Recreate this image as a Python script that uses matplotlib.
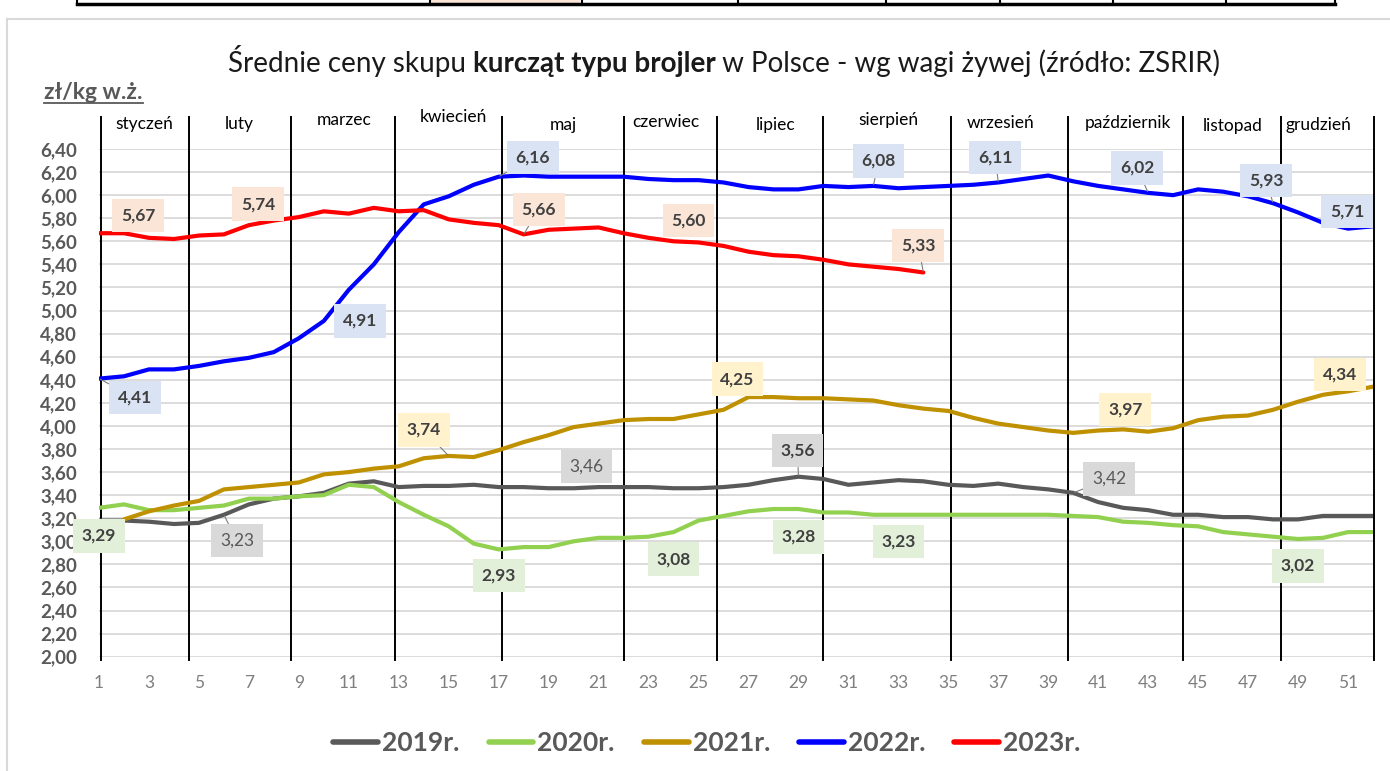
import numpy as np
import matplotlib.pyplot as plt
from matplotlib.lines import Line2D
from matplotlib.patches import Rectangle

plt.rcParams['font.family'] = ['Lato', 'DejaVu Sans']

weeks = np.arange(1, 53)

y2019 = [3.18, 3.18, 3.17, 3.15, 3.16, 3.23, 3.32, 3.37, 3.39, 3.42, 3.50, 3.52, 3.47,
         3.48, 3.48, 3.49, 3.47, 3.47, 3.46, 3.46, 3.47, 3.47, 3.47, 3.46, 3.46, 3.47,
         3.49, 3.53, 3.56, 3.54, 3.49, 3.51, 3.53, 3.52, 3.49, 3.48, 3.50, 3.47, 3.45,
         3.42, 3.34, 3.29, 3.27, 3.23, 3.23, 3.21, 3.21, 3.19, 3.19, 3.22, 3.22, 3.22]
y2020 = [3.29, 3.32, 3.27, 3.27, 3.29, 3.31, 3.37, 3.37, 3.39, 3.40, 3.49, 3.47, 3.34,
         3.23, 3.13, 2.98, 2.93, 2.95, 2.95, 3.00, 3.03, 3.03, 3.04, 3.08, 3.18, 3.22,
         3.26, 3.28, 3.28, 3.25, 3.25, 3.23, 3.23, 3.23, 3.23, 3.23, 3.23, 3.23, 3.23,
         3.22, 3.21, 3.17, 3.16, 3.14, 3.13, 3.08, 3.06, 3.04, 3.02, 3.03, 3.08, 3.08]
y2021 = [np.nan, 3.19, 3.26, 3.31, 3.35, 3.45, 3.47, 3.49, 3.51, 3.58, 3.60, 3.63, 3.65,
         3.72, 3.74, 3.73, 3.79, 3.86, 3.92, 3.99, 4.02, 4.05, 4.06, 4.06, 4.10, 4.14,
         4.25, 4.25, 4.24, 4.24, 4.23, 4.22, 4.18, 4.15, 4.13, 4.07, 4.02, 3.99, 3.96,
         3.94, 3.96, 3.97, 3.95, 3.98, 4.05, 4.08, 4.09, 4.14, 4.21, 4.27, 4.30, 4.34]
y2022 = [4.41, 4.43, 4.49, 4.49, 4.52, 4.56, 4.59, 4.64, 4.76, 4.91, 5.18, 5.40, 5.68,
         5.92, 5.99, 6.09, 6.16, 6.17, 6.16, 6.16, 6.16, 6.16, 6.14, 6.13, 6.13, 6.11,
         6.07, 6.05, 6.05, 6.08, 6.07, 6.08, 6.06, 6.07, 6.08, 6.09, 6.11, 6.14, 6.17,
         6.12, 6.08, 6.05, 6.02, 6.00, 6.05, 6.03, 5.99, 5.93, 5.85, 5.76, 5.71, 5.73]
y2023 = [5.67, 5.67, 5.63, 5.62, 5.65, 5.66, 5.74, 5.78, 5.81, 5.86, 5.84, 5.89, 5.86,
         5.87, 5.79, 5.76, 5.74, 5.66, 5.70, 5.71, 5.72, 5.67, 5.63, 5.60, 5.59, 5.56,
         5.51, 5.48, 5.47, 5.44, 5.40, 5.38, 5.36, 5.33]

series = [("2019r.", y2019, "#595959", "#d9d9d9"),
          ("2020r.", y2020, "#92d050", "#e2f0d9"),
          ("2021r.", y2021, "#bf9000", "#fff2cc"),
          ("2022r.", y2022, "#0000ff", "#dae3f3"),
          ("2023r.", y2023, "#ff0000", "#fbe5d6")]

months = ["styczeń", "luty", "marzec", "kwiecień", "maj", "czerwiec", "lipiec",
          "sierpień", "wrzesień", "październik", "listopad", "grudzień"]
month_bounds = [1.1, 4.6, 8.7, 12.85, 17.15, 22.0, 25.75, 30.0, 35.1, 39.8, 44.4, 48.3, 52.05]
# where the month names sit (in week units) and small vertical shifts (px)
month_pos = [2.8, 6.6, 10.8, 15.2, 19.6, 23.7, 28.1, 32.6, 37.1, 42.2, 46.4, 49.8]
month_dy = [0, 0, 4, 7, -1, 2, -1, 4, 1, 1, -2, -1]

# data labels: (series index, week, dx px, dy px, bold, leader)
labels = [(4, 1, 39, 18, True, False), (4, 7, 9, 21, True, False), (4, 18, 15, 25, True, True),
          (4, 24, 15, 21, True, False), (4, 34, -5, 27, True, True),
          (3, 1, 36, -19, True, True), (3, 10, 36, 0, True, False), (3, 17, 34, 19, True, True),
          (3, 32, 5, 25, True, True), (3, 37, -3, 25, True, True), (3, 43, -11, 25, True, True),
          (3, 48, -7, 23, True, True), (3, 51, -1, 17, True, False),
          (2, 15, -25, 26, True, True), (2, 27, -11, 18, True, False), (2, 42, 2, 20, True, False),
          (2, 52, -33, 12, True, False),
          (0, 6, 13, -26, False, True), (0, 20, 13, 22, False, False), (0, 29, -1, 26, True, True),
          (0, 40, 36, 14, False, True),
          (1, 1, 0, -28, True, False), (1, 17, 0, -26, True, False), (1, 24, 0, -27, True, False),
          (1, 29, 0, -28, True, False), (1, 33, 0, -27, True, False), (1, 49, 0, -27, True, False)]

W, H = 1390, 771
fig = plt.figure(figsize=(W / 100, H / 100), dpi=100)
ax = fig.add_axes([99 / W, 1 - 656.7 / H, (1373 - 99) / W, (656.7 - 149) / H])

for name, vals, col, _ in series:
    ax.plot(weeks[:len(vals)], vals, color=col, lw=3.0, label=name,
            solid_joinstyle='round', solid_capstyle='round', zorder=3)

ax.set_xlim(1, 52)
ax.set_ylim(2.0, 6.4)
ax.set_yticks(np.arange(2.0, 6.41, 0.2))
ax.set_yticklabels([f"{v:.2f}".replace(".", ",") for v in np.arange(2.0, 6.41, 0.2)],
                   fontweight='bold', fontsize=13.5, color='#595959')
ax.set_xticks(np.arange(1, 52, 2))
ax.tick_params(axis='x', length=0, pad=13, labelsize=12.5, labelcolor='#7f7f7f')
ax.tick_params(axis='y', length=0, pad=16)
ax.grid(axis='y', color='#d9d9d9', lw=1.3)
ax.set_axisbelow(True)
for s in ax.spines.values():
    s.set_visible(False)

for b in month_bounds:
    ax.plot([b, b], [1.97, 6.68], color='black', lw=1.4, clip_on=False, zorder=2)
for m, xm, dy in zip(months, month_pos, month_dy):
    ax.annotate(m, xy=(xm, 6.62), xytext=(0, dy), textcoords='offset pixels',
                ha='center', va='center', fontsize=12.5, color='black', annotation_clip=False)

for si, wk, dx, dy, bold, leader in labels:
    name, vals, col, box = series[si]
    v = vals[wk - 1]
    txt = f"{v:.2f}".replace(".", ",")
    tcol = '#404040' if bold else '#595959'
    arrow = dict(arrowstyle='-', color='#7f7f7f', lw=0.8, shrinkA=0, shrinkB=1) if leader else None
    ax.annotate(txt, xy=(wk, v), xytext=(dx, dy), textcoords='offset pixels',
                ha='center', va='center', fontsize=12.5,
                fontweight='bold' if bold else 'normal', color=tcol,
                bbox=dict(boxstyle='square,pad=0.5', fc=box, ec='none'),
                arrowprops=arrow, annotation_clip=False, zorder=5)

# title with bold middle part
parts = [("Średnie ceny skupu ", 'normal'), ("kurcząt typu brojler", 'bold'),
         (" w Polsce - wg wagi żywej (źródło: ZSRIR)", 'normal')]
renderer = fig.canvas.get_renderer()
ty = 1 - 72 / H
texts = []
for s, wgt in parts:
    texts.append(fig.text(0, ty, s, fontsize=20, fontweight=wgt, color='#1a1a1a', va='baseline'))
widths = [t.get_window_extent(renderer).width for t in texts]
x0 = 724 - sum(widths) / 2
for t, w in zip(texts, widths):
    t.set_x(x0 / W)
    x0 += w

u = fig.text(44 / W, 1 - 99 / H, "zł/kg w.ż.", fontsize=16.5, fontweight='bold',
             color='#595959', va='baseline')
ub = u.get_window_extent(renderer)
fig.add_artist(Line2D([ub.x0 / W, ub.x1 / W], [1 - 103 / H] * 2, color='#595959', lw=1.3))

# chart frame and table edge at top
fig.add_artist(Line2D([7 / W, 7 / W], [0, 1 - 19 / H], color='#d9d9d9', lw=1.5))
fig.add_artist(Line2D([7 / W, 1], [1 - 19 / H] * 2, color='#d9d9d9', lw=1.5))
fig.add_artist(Rectangle((430 / W, 1 - 3 / H), 150 / W, 3 / H, fc='#fbe5d6', ec='none'))
fig.add_artist(Line2D([77 / W, 1335 / W], [1 - 4 / H] * 2, color='black', lw=2.5))
for xv in [77, 430, 582, 738, 886, 1000, 1113, 1226, 1335]:
    fig.add_artist(Line2D([xv / W, xv / W], [1 - 4 / H, 1], color='black', lw=1.5))

leg = fig.legend(loc='center', bbox_to_anchor=(707 / W, 1 - 743 / H), ncol=5, frameon=False,
                 fontsize=19, handlelength=1.7, handletextpad=0.15, columnspacing=1.1)
for t in leg.get_texts():
    t.set_fontweight('bold')
    t.set_color('#595959')
for h in leg.get_lines():
    h.set_linewidth(4)

fig.savefig("out.png", dpi=100, facecolor='white')
